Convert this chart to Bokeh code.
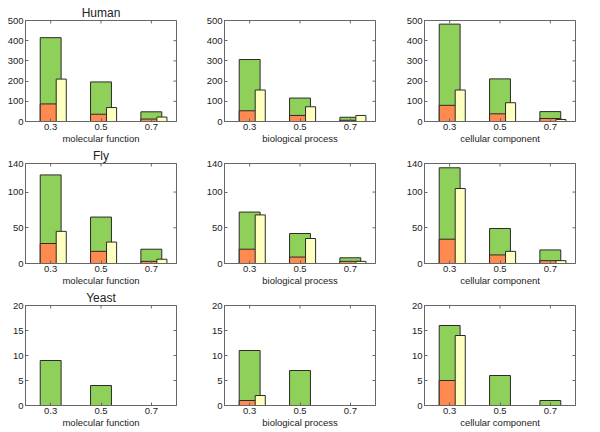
import math
from bokeh.plotting import figure
from bokeh.layouts import gridplot
from bokeh.models import Range1d, FixedTicker, ColumnDataSource
from bokeh.embed import file_html
from bokeh.resources import INLINE

# ---------------- data ----------------
thresholds = [0.3, 0.5, 0.7]
organisms = ["Human", "Fly", "Yeast"]
ontologies = ["molecular function", "biological process", "cellular component"]

human_mf_total = [415, 196, 48]
human_mf_orange = [87, 36, 12]
human_mf_yellow = [210, 69, 22]
human_bp_total = [307, 116, 21]
human_bp_orange = [53, 30, 6]
human_bp_yellow = [156, 73, 30]
human_cc_total = [482, 211, 49]
human_cc_orange = [80, 38, 15]
human_cc_yellow = [156, 93, 10]

fly_mf_total = [124, 65, 20]
fly_mf_orange = [28, 17, 3]
fly_mf_yellow = [45, 30, 6]
fly_bp_total = [72, 42, 8]
fly_bp_orange = [20, 9, 3]
fly_bp_yellow = [68, 35, 3]
fly_cc_total = [134, 49, 19]
fly_cc_orange = [34, 12, 4]
fly_cc_yellow = [105, 17, 4]

yeast_mf_total = [9, 4, 0]
yeast_mf_orange = [0, 0, 0]
yeast_mf_yellow = [0, 0, 0]
yeast_bp_total = [11, 7, 0]
yeast_bp_orange = [1, 0, 0]
yeast_bp_yellow = [2, 0, 0]
yeast_cc_total = [16, 6, 1]
yeast_cc_orange = [5, 0, 0]
yeast_cc_yellow = [14, 0, 0]

x_min, x_max = 0.2, 0.8
y_max = [500, 140, 20]
y_ticks = [[0, 100, 200, 300, 400, 500], [0, 50, 100, 140], [0, 5, 10, 15, 20]]

panels = [
    [(human_mf_total, human_mf_orange, human_mf_yellow),
     (human_bp_total, human_bp_orange, human_bp_yellow),
     (human_cc_total, human_cc_orange, human_cc_yellow)],
    [(fly_mf_total, fly_mf_orange, fly_mf_yellow),
     (fly_bp_total, fly_bp_orange, fly_bp_yellow),
     (fly_cc_total, fly_cc_orange, fly_cc_yellow)],
    [(yeast_mf_total, yeast_mf_orange, yeast_mf_yellow),
     (yeast_bp_total, yeast_bp_orange, yeast_bp_yellow),
     (yeast_cc_total, yeast_cc_orange, yeast_cc_yellow)],
]

# ---------------- style ----------------
GREEN = "#8ed05a"
ORANGE = "#ff8a50"
YELLOW = "#ffffbf"
EDGE = "#2b2b2b"
AXIS = "#666666"
TEXT = "#222222"
FONT = "Liberation Sans"

col_widths = [199, 200, 199]
col_border_right = [23, 24, 23]
row_heights = [146, 142, 142]
row_border_top = [20, 17, 17]
BORDER_LEFT = 25
BORDER_BOTTOM = 23

GREEN_W = 0.083
YEL_W = 0.04
YEL_OFF = 0.042


def nonzero(xs, vals, off=0.0):
    xx = [x + off for x, v in zip(xs, vals) if v > 0]
    vv = [v for v in vals if v > 0]
    return ColumnDataSource(dict(x=xx, top=vv))


def style_axis(ax):
    ax.major_tick_in = 3
    ax.major_tick_out = 0
    ax.minor_tick_line_color = None
    ax.axis_line_color = AXIS
    ax.major_tick_line_color = AXIS
    ax.major_label_text_font = FONT
    ax.major_label_text_font_size = "9.5px"
    ax.major_label_text_color = TEXT
    ax.major_label_standoff = 2
    ax.axis_label_text_font = FONT
    ax.axis_label_text_font_size = "9.5px"
    ax.axis_label_text_font_style = "normal"
    ax.axis_label_text_color = TEXT
    ax.axis_label_standoff = 0


grid = []
for r in range(3):
    row = []
    for c in range(3):
        total, orange, yellow = panels[r][c]
        p = figure(width=col_widths[c], height=row_heights[r],
                   output_backend="svg", toolbar_location=None,
                   x_range=Range1d(x_min, x_max), y_range=Range1d(0, y_max[r]),
                   min_border_left=BORDER_LEFT, min_border_right=col_border_right[c],
                   min_border_top=row_border_top[r], min_border_bottom=BORDER_BOTTOM,
                   x_axis_label=ontologies[c])
        if c == 0:
            p.title.text = organisms[r]
            p.title.align = "center"
            p.title.text_font = FONT
            p.title.text_font_size = "12px"
            p.title.text_font_style = "normal"
            p.title.text_color = TEXT
            p.title.standoff = 1
        p.xgrid.visible = False
        p.ygrid.visible = False
        p.outline_line_color = AXIS
        p.background_fill_color = "white"
        p.border_fill_color = "white"

        p.xaxis.ticker = FixedTicker(ticks=thresholds)
        p.yaxis.ticker = FixedTicker(ticks=y_ticks[r])
        style_axis(p.xaxis[0])
        style_axis(p.yaxis[0])

        # inward tick marks on the right and top edges of the box
        p.scatter(x=[x_max] * len(y_ticks[r]), y=y_ticks[r], marker="dash",
                  size=6, line_color=AXIS, line_width=1)
        p.scatter(x=thresholds, y=[y_max[r]] * len(thresholds), marker="dash",
                  size=6, angle=math.pi / 2, line_color=AXIS, line_width=1)

        p.vbar(x="x", top="top", bottom=0, width=GREEN_W, source=nonzero(thresholds, total),
               fill_color=GREEN, line_color=EDGE, line_width=1)
        p.vbar(x="x", top="top", bottom=0, width=GREEN_W, source=nonzero(thresholds, orange),
               fill_color=ORANGE, line_color=EDGE, line_width=1)
        p.vbar(x="x", top="top", bottom=0, width=YEL_W, source=nonzero(thresholds, yellow, YEL_OFF),
               fill_color=YELLOW, line_color=EDGE, line_width=1)
        row.append(p)
    grid.append(row)

layout = gridplot(grid, toolbar_location=None)
open("out.html", "w").write(file_html(layout, INLINE))
